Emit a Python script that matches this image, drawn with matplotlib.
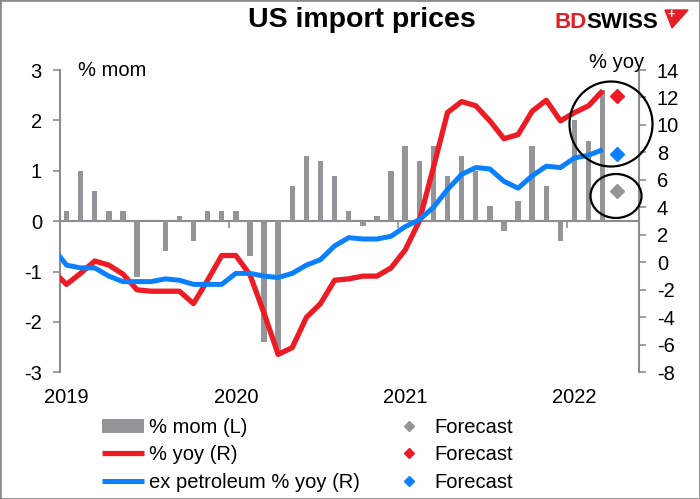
import numpy as np
import matplotlib
matplotlib.use('Agg')
import matplotlib.pyplot as plt
from matplotlib.patches import Ellipse, Rectangle, Polygon

plt.rcParams['font.family'] = ['Liberation Sans', 'DejaVu Sans']
plt.rcParams['axes.unicode_minus'] = False

# % mom, Jan 2019 .. Mar 2022 (left axis)
mom = [0.2, 1.0, 0.6, 0.2, 0.2, -1.1, 0.0, -0.6, 0.1, -0.4, 0.2, 0.2,
       0.2, -0.7, -2.4, -2.6, 0.7, 1.3, 1.2, 0.9, 0.2, -0.1, 0.1, 1.0,
       1.5, 1.2, 1.5, 0.9, 1.3, 1.0, 0.3, -0.2, 0.4, 1.5, 0.7, -0.4,
       2.0, 1.6, 2.6]

# % yoy series start in Dec 2018 (right axis)
yoy = [-0.6,
       -1.6, -0.8, 0.1, -0.2, -0.85, -2.0, -2.1, -2.1, -2.1, -3.0, -1.3, 0.5,
       0.5, -0.9, -3.7, -6.7, -6.2, -4.0, -3.0, -1.3, -1.2, -1.0, -1.0, -0.4,
       0.9, 3.0, 6.9, 10.9, 11.7, 11.4, 10.3, 9.0, 9.3, 11.0, 11.8, 10.3,
       10.9, 11.4, 12.5]
ex_pet = [1.1,
          -0.2, -0.4, -0.4, -1.0, -1.4, -1.4, -1.4, -1.2, -1.3, -1.6, -1.6, -1.6,
          -0.8, -0.8, -1.0, -1.1, -0.8, -0.2, 0.2, 1.2, 1.8, 1.7, 1.7, 1.9,
          2.6, 3.1, 4.0, 5.3, 6.4, 6.9, 6.8, 5.9, 5.4, 6.3, 7.0, 6.9,
          7.6, 7.8, 8.2]

# forecasts for Apr 2022
fc_mom = 0.6
fc_yoy = 12.1
fc_ex_pet = 7.9

years = ['2019', '2020', '2021', '2022']

GRAY = '#939598'
AXIS = '#8c8c8c'
RED = '#ed1c24'
BLUE = '#0a80ff'

W, H = 700, 499
fig = plt.figure(figsize=(W / 100, H / 100), dpi=100)

x_bar = np.arange(len(mom))
x_line = np.arange(-1, len(yoy) - 1)
x_fc = len(mom)

ax = fig.add_axes([60 / W, 1 - 372.3 / H, 578.7 / W, 302.3 / H])
ax2 = ax.twinx()

bars = ax.bar(x_bar, mom, width=0.38, color=GRAY, zorder=2)
gray_fc, = ax.plot([x_fc], [fc_mom], 'D', color=GRAY, ms=7, zorder=3)

red_line, = ax2.plot(x_line, yoy, color=RED, lw=3.8, solid_joinstyle='round', solid_capstyle='butt')
blue_line, = ax2.plot(x_line, ex_pet, color=BLUE, lw=3.6, solid_joinstyle='round', solid_capstyle='butt')
red_fc, = ax2.plot([x_fc], [fc_yoy], 'D', color=RED, ms=7)
blue_fc, = ax2.plot([x_fc], [fc_ex_pet], 'D', color=BLUE, ms=7)

ax.set_xlim(-0.46, 40.55)
ax.set_ylim(-3, 3)
ax2.set_ylim(-8, 14)

# spines
for s in ['top', 'right']:
    ax.spines[s].set_visible(False)
for s in ['top', 'bottom', 'left']:
    ax2.spines[s].set_visible(False)
ax.spines['left'].set_color(AXIS)
ax.spines['left'].set_linewidth(1.5)
ax2.spines['right'].set_color(AXIS)
ax2.spines['right'].set_linewidth(1.5)
ax.spines['bottom'].set_position(('data', 0))
ax.spines['bottom'].set_color(AXIS)
ax.spines['bottom'].set_linewidth(1.5)
ax.spines['bottom'].set_zorder(1)

ax.set_yticks(range(-3, 4))
ax2.set_yticks(range(-8, 15, 2))
ax.tick_params(axis='y', length=5, width=1.2, color=AXIS, pad=8, labelsize=14.5)
ax2.tick_params(axis='y', length=5, width=1.2, color=AXIS, pad=8, labelsize=14.5)

# year boundary tick marks on the zero line, labels at the bottom
boundaries = [12 * k - 0.5 for k in range(1, len(years))]
ax.set_xticks(boundaries)
ax.tick_params(axis='x', length=5, width=1.2, color=AXIS, labelbottom=False)
sec = ax.secondary_xaxis('bottom')
sec.set_xticks([12 * k for k in range(len(years))], labels=years)
sec.tick_params(length=0, pad=11, labelsize=14.5)
sec.spines['bottom'].set_visible(False)

fig.text(78 / W, 1 - 70 / H, '% mom', ha='left', va='center', fontsize=14.5)
fig.text(617 / W, 1 - 62 / H, '% yoy', ha='center', va='center', fontsize=14.5)
fig.text(362 / W, 1 - 20 / H, 'US import prices', ha='center', va='center',
         fontsize=20.5, fontweight='bold')

# circles round the forecasts
fig.add_artist(Ellipse((611 / W, 1 - 124 / H), 83 / W, 85 / H, transform=fig.transFigure,
                       fill=False, edgecolor='black', lw=1.6))
fig.add_artist(Ellipse((616 / W, 1 - 196 / H), 51 / W, 44 / H, transform=fig.transFigure,
                       fill=False, edgecolor='black', lw=1.6))

# logo
fig.text(555 / W, 1 - 28 / H, 'BD', color='#e31e24', fontsize=16, fontweight='bold',
         ha='left', va='baseline')
fig.text(586 / W, 1 - 28 / H, 'SWISS', color='black', fontsize=16, fontweight='bold',
         ha='left', va='baseline')
fig.add_artist(Polygon([(665 / W, 1 - 10 / H), (688 / W, 1 - 10 / H), (672 / W, 1 - 28 / H)],
                       closed=True, transform=fig.transFigure, color='#e31e24'))
fig.text(671 / W, 1 - 15 / H, '+', color='white', fontsize=9, fontweight='bold',
         ha='center', va='center')

leg = fig.legend([bars, red_line, blue_line, gray_fc, red_fc, blue_fc],
                 ['% mom (L)', '% yoy (R)', 'ex petroleum % yoy (R)',
                  'Forecast', 'Forecast', 'Forecast'],
                 ncol=2, loc='upper left', bbox_to_anchor=(102 / W, 1 - 418 / H),
                 frameon=False, fontsize=14.5, borderpad=0, borderaxespad=0,
                 handlelength=2.1, handletextpad=0.25, columnspacing=1.35,
                 labelspacing=0.42, markerscale=0.8)

fig.add_artist(Rectangle((0, 0), 1, 1, transform=fig.transFigure, fill=False,
                         edgecolor=AXIS, lw=2))

fig.savefig('out.png', dpi=100)
